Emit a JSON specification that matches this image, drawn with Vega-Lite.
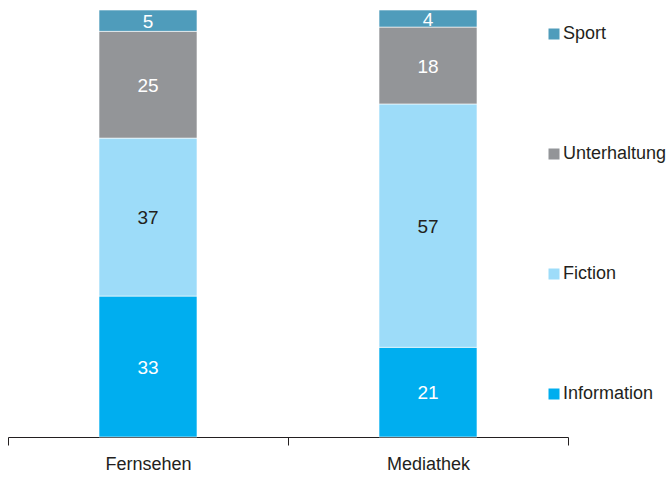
{
  "$schema": "https://vega.github.io/schema/vega-lite/v6.json",
  "autosize": {"type": "none"},
  "padding": {"left": 8, "top": 10, "right": 99, "bottom": 42},
  "width": 560,
  "height": 427,
  "data": {
    "values": [
      {"medium": "Fernsehen", "genre": "Information", "value": 33, "ord": 1},
      {"medium": "Fernsehen", "genre": "Fiction", "value": 37, "ord": 2},
      {"medium": "Fernsehen", "genre": "Unterhaltung", "value": 25, "ord": 3},
      {"medium": "Fernsehen", "genre": "Sport", "value": 5, "ord": 4},
      {"medium": "Mediathek", "genre": "Information", "value": 21, "ord": 1},
      {"medium": "Mediathek", "genre": "Fiction", "value": 57, "ord": 2},
      {"medium": "Mediathek", "genre": "Unterhaltung", "value": 18, "ord": 3},
      {"medium": "Mediathek", "genre": "Sport", "value": 4, "ord": 4}
    ]
  },
  "transform": [
    {"stack": "value", "groupby": ["medium"], "sort": [{"field": "ord", "order": "ascending"}], "as": ["v0", "v1"]},
    {"calculate": "(datum.v0 + datum.v1) / 2", "as": "mid"}
  ],
  "encoding": {
    "x": {
      "field": "medium",
      "type": "nominal",
      "scale": {"paddingInner": 0, "paddingOuter": 0},
      "axis": {
        "title": null,
        "labelAngle": 0,
        "tickBand": "extent",
        "tickSize": 8,
        "labelPadding": 10,
        "labelFontSize": 18,
        "labelColor": "#231f20",
        "domainColor": "#231f20",
        "tickColor": "#231f20"
      }
    }
  },
  "layer": [
    {
      "mark": {"type": "bar", "width": {"band": 0.35}, "stroke": "#ffffff", "strokeWidth": 0.6},
      "encoding": {
        "y": {"field": "v0", "type": "quantitative", "scale": {"domain": [0, 100], "nice": false}, "axis": null},
        "y2": {"field": "v1"},
        "color": {
          "field": "genre",
          "type": "nominal",
          "scale": {
            "domain": ["Sport", "Unterhaltung", "Fiction", "Information"],
            "range": ["#4f9cbb", "#939598", "#9ddcf9", "#00aeef"]
          },
          "legend": {
            "title": null,
            "orient": "none",
            "legendX": 537,
            "legendY": 15,
            "padding": 0,
            "symbolType": "square",
            "symbolSize": 121,
            "symbolStrokeWidth": 0,
            "labelFontSize": 18,
            "labelColor": "#231f20",
            "labelOffset": 0,
            "rowPadding": 102
          }
        }
      }
    },
    {
      "mark": {"type": "text", "fontSize": 19, "baseline": "middle", "dy": 1},
      "encoding": {
        "y": {"field": "mid", "type": "quantitative"},
        "text": {"field": "value", "type": "quantitative"},
        "color": {
          "condition": {"test": "datum.genre === 'Fiction'", "value": "#231f20"},
          "value": "#ffffff"
        }
      }
    }
  ],
  "config": {
    "font": "Liberation Sans, Arial, sans-serif",
    "view": {"stroke": null}
  }
}
